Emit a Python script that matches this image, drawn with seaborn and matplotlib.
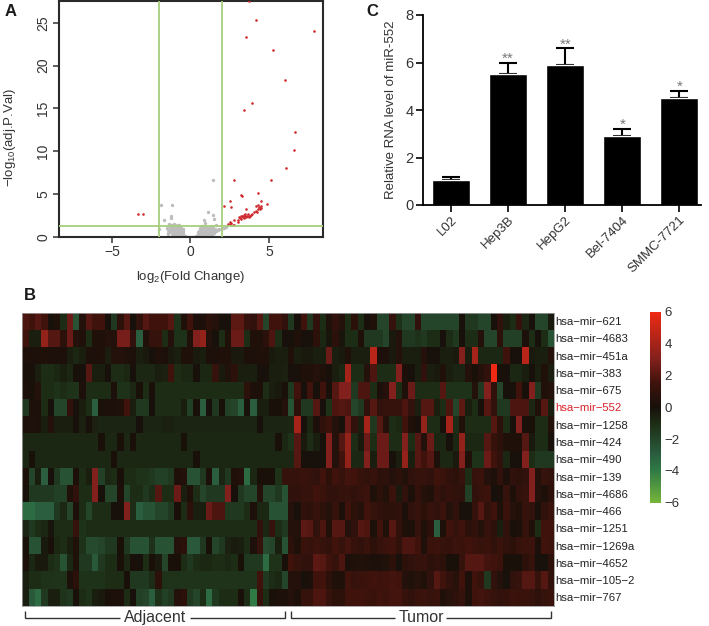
import matplotlib
matplotlib.use("Agg")
import matplotlib.pyplot as plt
from matplotlib.colors import LinearSegmentedColormap
from matplotlib.lines import Line2D
import numpy as np
import pandas as pd
import seaborn as sns

sns.set_theme(style="white")
plt.rcParams['font.family'] = ['Liberation Sans', 'DejaVu Sans']
plt.rcParams['mathtext.fontset'] = 'custom'
plt.rcParams['mathtext.rm'] = 'Liberation Sans'
plt.rcParams['mathtext.default'] = 'regular'
plt.rcParams['axes.unicode_minus'] = True

W, H = 709, 626
TXT = '#333333'

# ---------- panel A data ----------
red_x = [-3.37,-3.05,4.19,3.56,7.84,5.23,6.04,3.94,3.43,6.67,6.59,6.1,5.1,2.75,3.22,3.26,4.28,2.54,4.49,4.85,2.16,2.6,3.52,3.7,
         2.4,2.5,2.55,2.6,2.7,2.75,2.75,3.0,3.05,3.1,3.15,3.2,3.25,3.3,3.35,3.4,3.4,3.45,3.5,3.55,3.6,3.65,3.7,3.75,3.8,3.85,3.9,4.05,4.15,4.2,4.25,4.3,4.3,4.35,4.4,4.5,4.5]
red_y = [2.68,2.68,25.3,23.3,24.0,21.8,18.3,15.6,14.8,12.2,10.2,8.1,6.7,6.7,4.95,4.75,5.1,4.15,4.2,3.85,3.6,3.45,3.3,27.6,
         1.55,1.7,1.5,1.65,1.45,2.0,1.45,1.75,2.0,2.3,2.2,2.4,2.1,2.5,2.3,2.6,2.2,2.7,2.4,2.3,2.5,2.7,2.35,2.5,2.4,2.6,2.7,2.9,3.0,3.6,2.95,3.7,3.3,3.5,3.3,3.4,3.6]
grey_x = [-1.9,-1.19,1.42,1.14,1.42,-1.7,-1.25,-1.25,-1.97,-1.38,0.89,1.48,
          -1.5,-1.3,-1.25,-1.15,-1.1,-1.05,-1.0,-0.95,-0.9,-0.9,-0.85,-0.8,-0.8,-0.75,-0.7,-0.7,-0.65,-0.6,-0.6,-0.55,-0.5,-0.5,-0.45,-0.4,-0.35,-0.3,-0.25,-0.2,-0.1,0.0,0.1,
          -1.4,-1.2,-1.1,-1.0,-0.95,-0.85,-0.75,-0.65,-0.55,
          -1.45,-1.35,-1.3,-1.2,-1.15,-1.1,-1.05,-1.0,-0.95,-0.9,-0.85,-0.8,-0.75,-0.7,-0.65,-0.6,-0.55,-0.5,-0.45,-1.25,-1.1,-1.0,-0.9,-0.8,-0.7,-0.6,-0.5,-1.4,-0.95,
          0.2,0.3,0.35,0.4,0.45,0.5,0.5,0.55,0.6,0.6,0.65,0.7,0.7,0.75,0.8,0.8,0.85,0.9,0.95,1.0,1.0,1.05,1.1,1.15,1.2,1.25,1.3,1.35,1.45,1.55,1.6,1.75,1.85,1.95,2.05,2.15,2.25,
          0.6,0.7,0.8,0.9,1.0,1.1,1.2,1.4,
          0.5,0.55,0.65,0.7,0.75,0.85,0.9,0.95,1.05,1.1,1.15,1.2,1.25,1.3,1.35,1.4,1.5,1.6,1.7,0.65,0.8,0.95,1.1,1.25,1.4,1.55,0.9,1.0]
grey_y = [3.7,3.75,6.7,2.9,2.6,2.0,2.2,2.4,0.9,1.55,2.0,2.1,
          1.0,1.2,0.9,1.4,0.8,1.5,0.7,1.3,0.6,1.1,0.5,0.9,1.4,0.4,0.3,0.8,0.6,0.2,0.5,0.3,0.1,0.4,0.2,0.15,0.1,0.05,0.05,0.03,0.02,0.0,0.02,
          0.5,0.4,0.3,0.2,0.5,0.2,0.15,0.1,0.05,
          0.8,0.6,0.75,0.65,1.1,0.55,1.2,0.95,1.05,0.3,0.75,0.55,1.0,0.5,1.2,0.8,0.65,0.7,0.45,1.35,1.0,1.35,0.8,1.1,1.4,1.1,0.95,0.3,0.1,
          0.04,0.05,0.1,0.15,0.1,0.3,0.15,0.4,0.2,0.5,0.3,0.6,0.2,0.4,0.7,0.3,0.5,0.8,0.6,0.9,0.4,0.7,0.5,0.6,0.8,1.0,0.7,1.3,1.0,0.9,1.4,0.8,0.9,0.95,1.0,1.05,1.2,
          1.0,1.1,1.3,1.6,1.2,0.2,0.3,0.3,
          0.55,0.7,0.85,0.45,1.1,0.15,1.0,0.35,0.25,1.1,0.3,0.45,0.35,0.5,0.25,0.6,0.5,0.65,0.8,1.25,1.0,1.15,0.9,1.2,0.85,0.75,0.1,0.2]
volcano_cut_y = 1.3
volcano_cut_x = [-2, 2]

# ---------- panel C data ----------
cells = ['L02', 'Hep3B', 'HepG2', 'Bel-7404', 'SMMC-7721']
rna_mean = [1.05, 5.5, 5.9, 2.9, 4.5]
rna_err = [0.15, 0.5, 0.7, 0.3, 0.3]
rna_sig = ['', '**', '**', '*', '*']

# ---------- panel B data ----------
mirnas = ['hsa−mir−621','hsa−mir−4683','hsa−mir−451a','hsa−mir−383','hsa−mir−675','hsa−mir−552',
          'hsa−mir−1258','hsa−mir−424','hsa−mir−490','hsa−mir−139','hsa−mir−4686','hsa−mir−466',
          'hsa−mir−1251','hsa−mir−1269a','hsa−mir−4652','hsa−mir−105−2','hsa−mir−767']
m621 = [1.8,1.5,2,1.5,0,.3,-1,2.5,-2.5,.5, 2,1.5,1.5,0,-1.5,.8,2,0,1,2, 1.5,1.5,1.5,2,-1.2,.3,1.5,.2,.2,.8, .5,0,0,2.2,2.2,1.2,1,2,-2,1.5, 1.5,1,-1.5,0,
        1.5,-1.5,1,-1,.3,1,.5,-1,.8,-1, 0,.3,-2,-2,1.2,-1.2,-2,-2,1,-2, -2,-2,-2,-2,-2,0,-1.5,-1.5,-2,-2, 0,1,-.5,-1,1.2,-.8,0,-2,-2,-.3]
m4683 = [1.5,-.5,-.5,3.5,2,2,.8,2.5,.5,.3, -1,.3,.3,.5,.5,2.8,2.8,1,-3,.3, 1.2,1.2,-1,.5,-1.2,-1.2,.3,3,3.5,.5, 0,-1,.3,2.5,2.5,-1,.3,.3,.8,1.8, -1,0,0,.3,
         0,0,.8,-.8,-.2,.8,-.2,-1,-1,.3, -1.5,-1.5,-1.5,-2,-.3,.5,-1.5,-1.5,-1.2,-1.5, -1,-1,0,-1,-1.5,0,-1,-1,.5,-2, -2,.8,-1.8,-1.8,-1.8,.2,-1,0,-1,-2.5]
m451a = [.3,.2,.2,.3,.2,.2,.2,-.5,-.8,-.5, .2,.2,.3,-.5,.5,.5,.3,.2,-.5,-.3, 0,.3,.2,-.3,-.5,.3,.3,-.3,-.5,.2, .2,.3,.3,-.3,-.3,.2,.2,.3,.3,-.3, -.5,-.5,.3,-.5,
         -.3,-.3,-.5,-.5,2.5,-.5,-.3,.3,-.5,-.5, -.5,4.5,.2,.2,-.3,.5,-.5,-.5,-.5,.5, 0,0,-.5,-.5,-.3,3,-.5,4,-.8,-.8, -.8,-.8,1.5,0,0,4.5,-.3,-.5,-.5,.5]
m383 = [.1,0,-.5,-1,-1,-.8,-.5,-.8,0,0, 2,-.5,-.5,0,-1,-1,-.8,0,-.8,-.8, -.8,-.5,-.6,1.5,-1,-.8,-.8,0,-.8,-.8, 1.2,-.3,.4,.8,-.5,-.5,-.5,0,0,-.5, -.5,-.6,0,0,
        .3,.3,.5,.3,0,-.5,-.8,4,-1,-1, .5,1.8,-1,-1,-1,3,.2,0,-.5,1, -.5,-.3,.3,-.5,-.7,-.7,.5,.1,.5,1, 6,.1,0,-.8,-.8,-.5,0,-.5,.3,-.5]
m675 = [.2,.1,.5,-1,-1,-1.2,-1,-1.2,-1.3,.2, -1,-1,-1,-1,.2,-1.2,-1.2,-.8,.1,-1, .1,-1,-1,-1,-1,-1,-1,-1,-1,-1, -1,-1,-1,-1,-1,.8,.2,.2,-1,-.5, -.3,.1,-1.5,1.5,
        0,1.5,0,1.5,0,2,3,3,-1.5,1.8, 1.8,-1,.2,.5,3,-1,.3,2.5,-1,-1, -1,-1,2,-1.2,-1.2,-1.2,-1.2,.5,-1.5,3, 1,-2,0,0,1.5,0,3,-1.5,.3,.5]
m552 = [-1.5,.2,.2,-1,0,-2,-2,1,0,-.5, -1,-3,.1,.2,.2,.3,1.5,-.5,-1.5,-1.5, 0,-1,-1,-1,-1,-.5,-1.8,.1,-3,0, -1.5,.1,-1.8,-2,-3,0,-3,-.5,-.5,.1, .1,.5,-2.5,.8,
        -1.5,-1.5,2,0,-1.2,1.8,2,1.8,-2,-1.5, 1,2,1,1.2,1.2,1.2,1.8,1,-.5,2, 2,-.5,-1,1.8,-2,2.2,-.5,-1,0,2, 1,-1.5,-1.5,1.8,1.8,1.8,-.8,.3,2,-.5]
m1258 = [.2,.3,.2,-.5,.5,-.5,-.5,-.5,0,-.6, 0,-.6,-.7,-.7,-.7,-.7,-.7,-.7,0,-.7, -.7,-.7,-.6,-.6,-.7,-.7,-.7,-.7,-.7,-.7, -.7,-.7,-.7,-.7,-.7,-.7,-.7,0,-.7,-.7, -.7,-.7,-.8,4,
         0,-.8,.2,1,1.3,.5,0,2.5,1,-.5, 4,-1.5,2,.5,-1,-.8,1.5,.3,0,3.5, -1,-1,0,4,-1,.3,-1,-1,-1,-1, 2,.8,-1,0,3,.1,.1,-1,-1,.5]
m424 = [-.8,-.8,-.8,-.8,-.8,-.8,-.8,-.8,-.8,-.8, -.8,-.8,.1,-.8,-.8,.1,-.8,.1,-.8,-.8, -.8,-.8,-.8,-.8,-.8,.1,-.8,-.8,-.8,-.8, -.8,-.8,-.8,-.8,-.8,-.8,-.8,-.8,-.8,-.8, .1,-.8,-1.2,2,
        -.3,-1,-.5,0,3,.5,2,3.5,-1,-.3, 2.5,-1,2.5,2.5,-1,-1,3,-1,2,.5, 2.5,-.8,-.8,0,-.8,3.5,-.8,-.8,-.8,2, 1.2,.8,.3,.3,.3,2,-.3,-1,-1,0]
m490 = [-.8,.1,-.8,-.8,-.8,-.8,-.8,-.8,-.8,-.8, -.8,-.8,-.8,-.8,.1,-.8,-.8,-.8,-.8,-.8, -.8,-.8,-.8,-.8,-.8,-.8,-.8,.1,-.8,-.8, -.8,-.8,-.8,-.8,-.8,-.8,-.8,-.8,-.8,-.8, -.8,-.8,-.8,2,
        0,0,0,0,3,.5,1.5,3.5,-.8,-.8, 3,-.5,2.5,2.5,0,-.5,3.5,-.5,2,1.5, 2,.2,-.8,-.8,-.3,3,.3,-1.2,-1.2,2.5, 1.5,1,-.8,0,0,3,-1,-1.5,-1.5,-1.5]
m139 = [.2,-2,-.5,-3,0,-1.5,-2.5,-2.5,.2,-1, -.5,3,-1.8,-.8,-1,.1,-1,-1,-1.2,-1.2, -1.5,-1.8,-1.8,-1.5,.3,.5,-2.5,-2.5,-1.5,.2, -3,-.7,-1.5,.3,.5,-3.5,-.8,.1,.1,.1, -1.2,1.2,1.2,1.2,
        1.3,1.2,1,1.5,.8,1.5,1.2,1.6,1.5,1.2, 1,1.2,.8,.9,.5,.8,.4,1,1.2,1.2, 1,1.5,1.3,1,.8,1.2,-1,1.2,1.3,.5, .2,1,.2,1,.8,1,3,.5,1.2,1]
m4686 = [0,-1.5,-1.5,-1.5,-1.5,-1.8,-1.8,.3,1,-1, -1,3,0,-2,-2,.2,-2,-1,-1,-1.5, -1,2,-1,-1,2.5,-.5,.3,-1,-2,-1.5, -1.5,-1.5,3,0,-1.5,-2,-2,.5,-2,-2, -1.5,-2.5,1,1,
         1.2,1.2,1.5,1.3,1,1,1.2,1.2,1,1.2, 1.4,.3,.8,.4,1.3,-.3,1,.2,1.1,.5, .3,1.2,.9,1.1,1,.9,-1.8,1,1.2,1.4, 0,.1,1.2,.2,1,1.2,3,.5,.2,.8]
m466 = [-3.5,-3.5,-3,-3,-3,-1.5,-.8,-2,.2,-1, -2,-1,-1,-1,0,.1,3,-1,-3,-2.5, -2.5,-2,-2,-1.5,.1,-1,.8,-.5,-.5,2.5, 1.8,1.8,-1.5,-1.5,-1.5,-1,.2,-.8,-.8,-2.5, -2.5,-2.5,.5,0,
        1,.8,1.2,.8,.5,1.2,.2,1.5,.8,.5, 1.5,1.2,1,.8,.8,1,.2,1,1.2,.8, 1.2,1,1.3,.5,1,0,0,1.2,2,1, 1.5,.3,1.3,.6,.3,1.2,1,0,1,1.3]
m1251 = [-.7,-1.5,-1,-.8,-.2,-1,-1,-1,1.2,-1.2, -1,-1,-1,-1,-1,-1,-1,-1,-1,-1, -1,-1,-1,-1,-1,-1,-1,-1,-1,-1, -1,-1,-1,-1,-1,-1,-1,1,-.8,1.2, -1,-1.5,.5,.5,
         2.2,2,1,1.8,.3,2,2,.5,1,2, 1.8,.2,1.5,.3,2,1,.3,.2,1.2,.3, .8,-3,.2,1.5,1.2,1.5,.8,1,.5,1.2, .8,-.5,1,0,.2,1.2,.3,-1,1.5,1.5]
m1269a = [.1,-2.5,-2.5,-.3,.1,-.8,-1,-.5,.3,-1.2, -2.2,-2.2,-2,-1.5,-1.5,.1,-1.5,-2.5,-2.5,-2.5, -1.2,-2.5,-2.5,-2.5,.5,.8,-2.8,-2.8,-1.5,.1, -2,-1.5,-.6,-.4,-.5,-1,.2,1.2,-2.2,-2, -.5,-2.5,.8,.3,
          1.3,1.2,1.4,1.2,1,1.5,1.2,1.6,1.2,1, 1.3,.8,1.2,1.4,1.5,1,1.8,1.8,1.5,.3, 1.3,1.4,1.2,1.1,1.4,1.3,1.5,1.3,1.2,1.3, 1,1.3,1,.8,1.2,1.3,1.4,.2,1.5,1.4]
m4652 = [.2,-.8,-.3,-.3,-1,-1.2,-2.5,-.8,.3,-1.5, -1.5,-2.8,-1.5,-1,-1,.1,-.8,.1,0,-1, .1,-.3,-2,.1,.1,-1,-1.5,-1,-.8,-.8, -1,-1,-.8,-1,.1,-1.5,-1.5,-1.5,-3.5,-1.2, -1.2,.1,1.5,1.2,
         1,1,2.2,2,1.5,1.2,1.8,.2,.3,.4, .3,.2,.2,.4,.8,0,.8,1,1.2,1.2, .8,1,.8,.1,.1,1.2,2,2,2,1.6, 1.5,1.3,.1,.1,.1,.8,1.2,0,0,.8]
m105_2 = [-.5,-1,-1,-1.2,-1.2,-1.3,-1.3,.2,.8,-1.2, -1.2,-1.2,-1.2,-1,-1,-1,.1,-1.5,-1.5,-1.5, -1,.8,-1.2,-1.3,-1.3,-1.3,-1.3,-1.3,-1.3,-1.3, -1.3,-1.3,-1.3,-1.3,-1.3,-1.3,-1.3,1.5,-1.5,-1, -.8,-2,.5,.5,
          0,.2,1.5,1.5,.8,.3,.3,1.5,1.2,1.3, 1.4,1.5,1.4,1.5,1.6,1.5,.5,.4,.6,.3, 1,2,1.5,1,.6,1.5,.2,1.5,1.2,-1.5, 1,.5,0,1,1.2,2,2,1.2,2,1]
m767 = [-.5,-2.8,-3.5,-1.5,-.5,-.5,-1.3,-1.5,.1,-1, -1.2,-.5,-.3,.1,.2,.2,-1,0,-1.8,-2, -3,-1.2,-1.8,-1.5,.5,.8,-1.5,-2,-1,-3.5, -1.5,-1,-1,-1,.1,-1,-4,1.2,-1,.1, .2,.2,.5,.2,
        1.2,1.2,1.8,1.8,1.2,.8,.8,1.5,1.5,1.5, 1.4,1.3,1.5,1.4,1.6,1.6,1.2,1,1.3,1.4, 1.2,1.3,.3,.6,.9,1.2,.2,1.5,1.6,1.4, 1.2,1,1.1,1.4,1.3,1.3,1.2,.9,1.2,1.3]
matrix_rows = [m621,m4683,m451a,m383,m675,m552,m1258,m424,m490,m139,m4686,m466,m1251,m1269a,m4652,m105_2,m767]
colorbar_ticks = [6, 4, 2, 0, -2, -4, -6]
group_labels = ['Adjacent', 'Tumor']


def ax_px(fig, l, t, r, b):
    return fig.add_axes([l / W, 1 - b / H, (r - l) / W, (b - t) / H])


def line_px(fig, xs, ys, lw=1.0, color='#333333'):
    fig.add_artist(Line2D([x / W for x in xs], [1 - y / H for y in ys], lw=lw, color=color,
                          solid_capstyle='butt', solid_joinstyle='miter'))


fig = plt.figure(figsize=(W / 100, H / 100), dpi=100, facecolor='white')

# ---- Panel A ----
axA = ax_px(fig, 58.5, 0.5, 323, 237)
sns.scatterplot(x=grey_x, y=grey_y, color='#bdbdbd', s=6, linewidth=0, ax=axA, zorder=2)
sns.scatterplot(x=red_x, y=red_y, color='#cf2a2e', s=3.5, linewidth=0, ax=axA, zorder=3)
for v in volcano_cut_x:
    axA.axvline(v, color='#a6cf7c', lw=1.3, zorder=4)
axA.axhline(volcano_cut_y, color='#a6cf7c', lw=1.3, zorder=4)
axA.set_xlim(-8.4, 8.44)
axA.set_ylim(0, 27.6)
axA.set_xticks([-5, 0, 5])
axA.set_yticks([0, 5, 10, 15, 20, 25])
axA.tick_params(axis='both', length=4, width=1.1, color=TXT, labelsize=10, labelcolor=TXT,
                bottom=True, left=True, pad=2)
for lab in axA.get_yticklabels():
    lab.set_rotation(90)
    lab.set_va('center')
for s in axA.spines.values():
    s.set_linewidth(1.5)
    s.set_color('#2a2a2a')
axA.set_xlabel(r'log$_2$(Fold Change)', fontsize=9.5, color=TXT, labelpad=7)
axA.set_ylabel(r'−log$_{10}$(adj.P.Val)', fontsize=9.5, color=TXT)
axA.yaxis.set_label_coords((18 - 58.5) / 264.5, 0.42)

# ---- Panel C ----
axC = ax_px(fig, 422.5, 15, 701, 205)
dfC = pd.DataFrame({'cell': cells, 'rna': rna_mean})
sns.barplot(data=dfC, x='cell', y='rna', color='black', width=0.67, saturation=1, ax=axC, zorder=2)
axC.errorbar(range(len(cells)), rna_mean, yerr=[[0] * len(cells), rna_err], fmt='none',
             ecolor='black', elinewidth=1.5, capsize=6.8, capthick=1.5, zorder=1)
for i, (m, e, t) in enumerate(zip(rna_mean, rna_err, rna_sig)):
    if t:
        axC.text(i, m + e + 0.16, t, ha='center', va='center', fontsize=11, color='#777777')
axC.set_xlim(-0.5, 4.38)
axC.set_ylim(0, 8)
axC.set_yticks([0, 2, 4, 6, 8])
axC.set_xlabel('')
axC.set_ylabel('Relative RNA level of miR-552', fontsize=9.5, color=TXT)
axC.yaxis.set_label_coords((397 - 422.5) / 278.5, 0.5)
axC.set_xticks(range(len(cells)))
axC.set_xticklabels(cells, rotation=45, ha='right', rotation_mode='anchor', fontsize=9.5, color=TXT)
axC.tick_params(axis='both', length=5, width=1.2, color='black', labelcolor=TXT, bottom=True, left=True, pad=1.5)
axC.tick_params(axis='y', labelsize=10.5)
axC.spines['top'].set_visible(False)
axC.spines['right'].set_visible(False)
axC.spines['left'].set_linewidth(1.3)
axC.spines['bottom'].set_linewidth(1.3)
axC.spines['left'].set_color('black')
axC.spines['bottom'].set_color('black')

# ---- Panel B ----
matrix = pd.DataFrame(matrix_rows, index=mirnas)
stops = [-6, -4, -3, -1, 0, 1.5, 3, 6]
colours = ['#74b43a', '#2f7a45', '#2a5e3e', '#1d2c15', '#17100a', '#3e120c', '#80201c', '#ee2a14']
hm_cmap = LinearSegmentedColormap.from_list('gkr', [((v + 6) / 12, c) for v, c in zip(stops, colours)])
axB = ax_px(fig, 22.3, 312.5, 554, 606)
axCb = ax_px(fig, 650, 312, 660.5, 502.5)
sns.heatmap(matrix, ax=axB, cbar_ax=axCb, cmap=hm_cmap, vmin=-6, vmax=6, xticklabels=False,
            yticklabels=True, cbar_kws={'ticks': colorbar_ticks})
axB.yaxis.tick_right()
axB.set_yticks(np.arange(len(mirnas)) + 0.5)
axB.set_yticklabels(mirnas, rotation=0, fontsize=8.2, color='#222222')
axB.tick_params(axis='y', length=0, pad=0.8, right=False, left=False)
axB.get_yticklabels()[mirnas.index('hsa−mir−552')].set_color('#d8232a')
for s in axB.spines.values():
    s.set_visible(True)
    s.set_color('#999999')
    s.set_linewidth(0.6)
axCb.tick_params(length=0, labelsize=9.5, labelcolor=TXT, pad=3)
for s in axCb.spines.values():
    s.set_visible(False)

# brackets
for (x0, x1, x2, x3, label, xc) in [(25, 120, 190, 285, group_labels[0], 155),
                                    (291, 395, 446, 551, group_labels[1], 421.5)]:
    line_px(fig, [x0, x0, x1], [611, 618, 618])
    line_px(fig, [x2, x3, x3], [618, 618, 611])
    fig.text(xc / W, 1 - 617.5 / H, label, ha='center', va='center', fontsize=11.5, color=TXT)

# panel letters
for letter, x, y in [('A', 10.5, 12), ('B', 29.5, 295), ('C', 372, 11)]:
    fig.text(x / W, 1 - y / H, letter, ha='center', va='center', fontsize=12, fontweight='bold', color='#1a1a1a')

fig.savefig('out.png', dpi=100, facecolor='white')
